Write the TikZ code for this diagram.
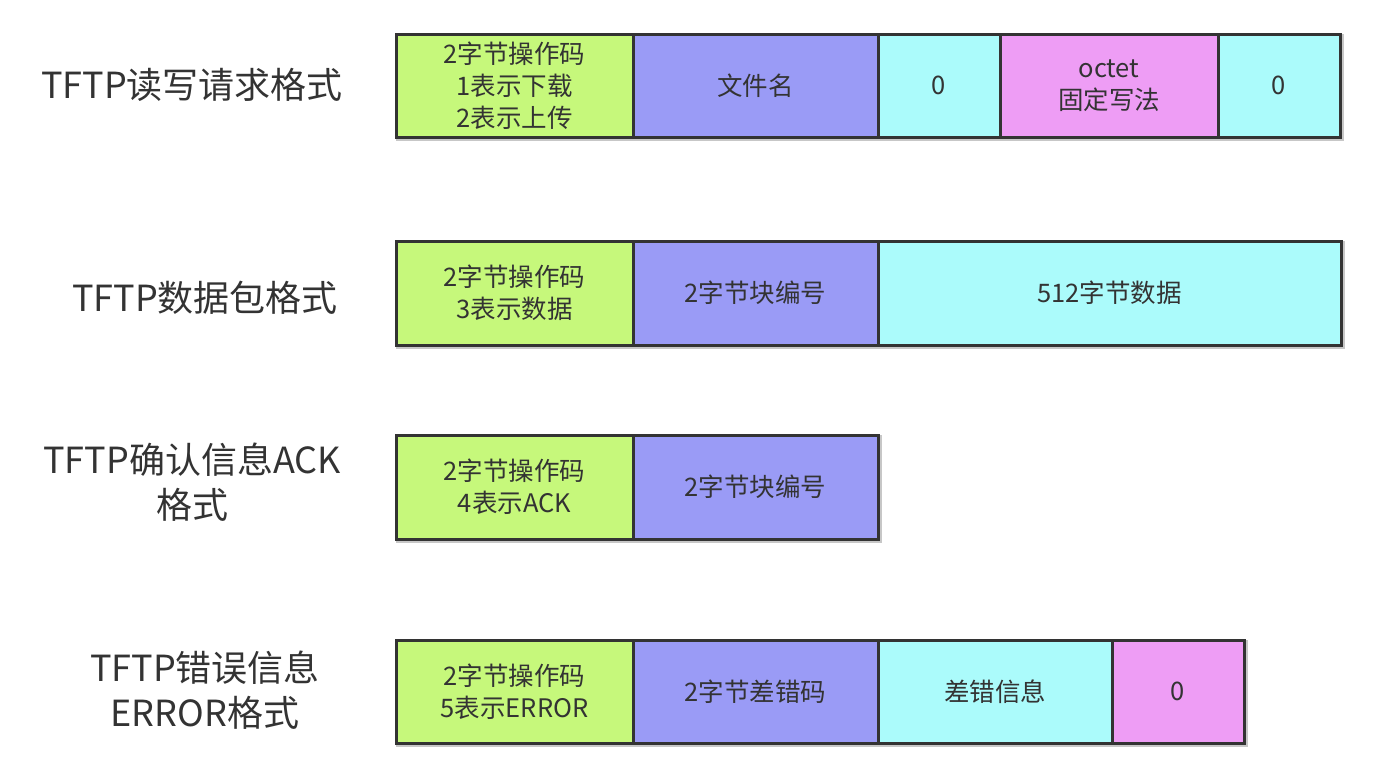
\documentclass[tikz,border=0pt]{standalone}
\usepackage{fontspec}
\setmainfont{Noto Sans CJK SC}
\definecolor{cgreen}{HTML}{C6F87B}
\definecolor{cblue}{HTML}{9A9BF6}
\definecolor{ccyan}{HTML}{ABFBFB}
\definecolor{cpink}{HTML}{EE9DF5}
\definecolor{ink}{HTML}{333333}
\definecolor{edge}{HTML}{333333}
\tikzset{
  cell/.style={draw=edge, line width=3pt, inner sep=0pt, outer sep=0pt, align=center,
    text=ink, font=\fontsize{25.5}{32}\selectfont},
  rowlabel/.style={align=center, text=ink, font=\fontsize{36}{45}\selectfont},
  shade/.style={draw=black!22, line width=4pt},
}
\begin{document}
\begin{tikzpicture}[x=1pt,y=-1pt]
\useasboundingbox (0,0) rectangle (1376,782);
% shadows
\draw[shade] (398,36) rectangle (1342,139);
\draw[shade] (398,243) rectangle (1343,347);
\draw[shade] (398,437) rectangle (880,541);
\draw[shade] (398,642) rectangle (1246,745);
% row 1
\node[rowlabel] (l1) at (192,85) {TFTP读写请求格式};
\node[cell, fill=cgreen, minimum width=237pt, minimum height=103pt] (r1a) at (514.5,85.5) {2字节操作码\\1表示下载\\2表示上传};
\node[cell, fill=cblue, minimum width=245pt, minimum height=103pt, anchor=west] (r1b) at (r1a.east) {文件名};
\node[cell, fill=ccyan, minimum width=122pt, minimum height=103pt, anchor=west] (r1c) at (r1b.east) {0};
\node[cell, fill=cpink, minimum width=218pt, minimum height=103pt, anchor=west] (r1d) at (r1c.east) {octet\\固定写法};
\node[cell, fill=ccyan, minimum width=122pt, minimum height=103pt, anchor=west] (r1e) at (r1d.east) {0};
% row 2
\node[rowlabel] (l2) at (205,298) {TFTP数据包格式};
\node[cell, fill=cgreen, minimum width=237pt, minimum height=104pt] (r2a) at (514.5,293) {2字节操作码\\3表示数据};
\node[cell, fill=cblue, minimum width=245pt, minimum height=104pt, anchor=west] (r2b) at (r2a.east) {2字节块编号};
\node[cell, fill=ccyan, minimum width=463pt, minimum height=104pt, anchor=west] (r2c) at (r2b.east) {512字节数据};
% row 3
\node[rowlabel] (l3) at (192,482) {TFTP确认信息ACK\\格式};
\node[cell, fill=cgreen, minimum width=237pt, minimum height=104pt] (r3a) at (514.5,487) {2字节操作码\\4表示ACK};
\node[cell, fill=cblue, minimum width=245pt, minimum height=104pt, anchor=west] (r3b) at (r3a.east) {2字节块编号};
% row 4
\node[rowlabel] (l4) at (205,690) {TFTP错误信息\\ERROR格式};
\node[cell, fill=cgreen, minimum width=237pt, minimum height=103pt] (r4a) at (514.5,691.5) {2字节操作码\\5表示ERROR};
\node[cell, fill=cblue, minimum width=245pt, minimum height=103pt, anchor=west] (r4b) at (r4a.east) {2字节差错码};
\node[cell, fill=ccyan, minimum width=234pt, minimum height=103pt, anchor=west] (r4c) at (r4b.east) {差错信息};
\node[cell, fill=cpink, minimum width=132pt, minimum height=103pt, anchor=west] (r4d) at (r4c.east) {0};
\end{tikzpicture}
\end{document}
